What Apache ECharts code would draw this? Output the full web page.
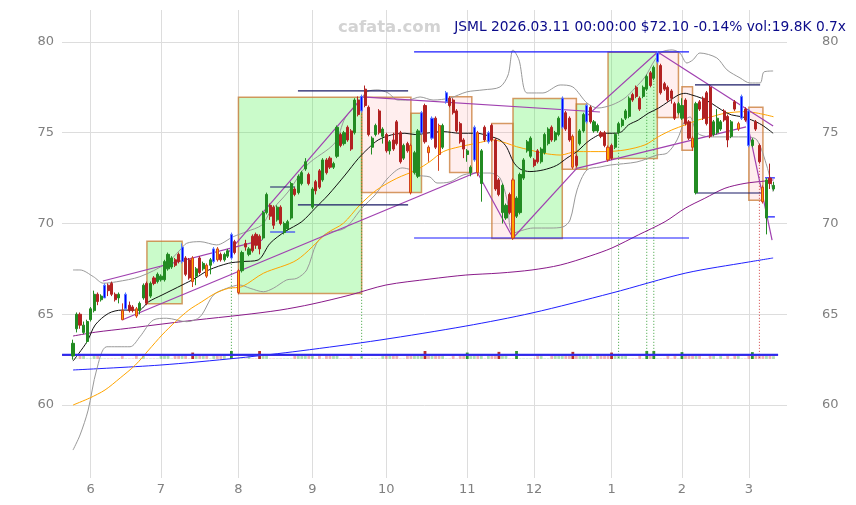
<!DOCTYPE html>
<html><head><meta charset="utf-8">
<script src="https://cdn.jsdelivr.net/npm/echarts@6/dist/echarts.min.js"></script>
<style>html,body{margin:0;padding:0;background:#fff}#c{width:856px;height:505px}</style>
</head><body><div id="c"></div>
<script>
// ---------- data ----------
const infoText = 'JSML 2026.03.11 00:00:00 $72.10 -0.14% vol:19.8K 0.7x';
const watermark = 'cafata.com';
const monthLabels = ['6','7','8','9','10','11','12','1','2','3'];
const monthStartIdx = [5,25,47,68,89,112,131,153,173,192];
const priceTicks = [60,65,70,75,80];

// daily [open, close, low, high], trading days 2025-05-23 .. 2026-03-11
const ohlc = [
[62.7,63.4,62.5,63.6],[64.2,65.0,64.0,65.1],[65.0,64.4,64.2,65.1],[64.0,64.4,63.9,64.6],[63.5,64.6,63.4,64.7],
[64.7,65.3,64.6,65.4],[65.2,66.1,65.1,66.3],[66.1,65.7,65.5,66.2],[65.8,66.0,65.7,66.1],[65.9,66.6,65.9,66.7],
[66.6,66.3,66.0,66.7],[66.7,66.1,66.0,66.8],[66.1,65.8,65.7,66.2],[65.9,66.1,65.6,66.2],[65.2,64.7,64.7,65.6],
[65.3,66.1,65.2,66.2],[65.5,65.2,65.1,65.7],[65.4,65.2,65.1,65.5],[65.3,64.9,64.8,65.4],[65.2,65.6,65.0,65.7],
[65.9,66.6,65.8,66.7],[66.7,65.6,65.5,66.8],[66.0,66.7,65.9,66.8],[67.0,66.7,66.6,67.1],[66.8,67.2,66.7,67.3],
[66.9,67.1,66.8,67.2],[66.9,67.9,66.8,68.0],[67.5,68.3,67.4,68.4],[67.6,68.1,67.5,68.2],[68.0,67.7,67.6,68.1],
[68.3,67.9,67.8,68.4],[67.9,68.7,67.8,68.9],[68.1,67.2,67.1,68.2],[68.0,67.0,66.9,68.1],[68.1,66.8,66.5,68.2],
[67.1,67.5,66.6,67.6],[68.1,67.3,67.2,68.2],[67.5,67.8,67.4,67.9],[67.7,67.1,67.0,67.8],[67.7,68.0,67.2,68.1],
[67.9,68.6,67.8,68.7],[68.6,68.0,67.9,68.7],[68.3,68.0,67.9,68.4],[68.0,68.3,67.9,68.4],[68.2,68.5,68.1,68.6],
[68.1,69.4,68.0,69.5],[69.0,68.4,68.3,69.1],[67.4,66.2,66.1,67.5],[67.4,68.4,67.3,68.5],[68.9,68.7,68.5,69.1],
[68.3,68.6,68.2,68.7],[69.3,68.5,68.4,69.4],[69.4,68.8,68.6,69.5],[69.3,68.6,68.3,69.4],[69.2,70.6,69.1,70.7],
[70.6,71.6,70.5,71.7],[71.0,70.4,70.2,71.1],[70.9,69.9,69.7,71.0],[70.2,70.9,70.1,71.0],[70.9,70.0,69.9,71.0],
[69.5,70.0,69.4,70.1],[69.7,70.1,69.6,70.2],[70.3,72.2,70.2,72.3],[71.9,71.6,71.5,72.0],[71.7,72.6,71.6,72.7],
[72.2,72.8,72.1,72.9],[73.0,73.4,72.9,73.6],[72.7,72.2,72.1,72.8],[70.9,71.9,70.8,72.0],[72.3,71.8,71.6,72.4],
[72.9,72.0,71.9,73.0],[72.4,73.5,72.3,73.6],[73.5,72.8,72.7,73.6],[73.6,73.1,73.0,73.7],[73.1,73.3,73.0,73.4],
[73.7,75.3,73.6,75.4],[74.9,74.3,74.2,75.0],[74.4,75.0,74.3,75.1],[75.3,74.6,74.5,75.4],[75.1,74.1,74.0,75.2],
[75.0,76.8,74.9,76.9],[76.8,76.0,75.9,77.0],[76.2,77.0,76.1,77.1],[77.4,76.5,76.4,77.6],[76.4,74.9,74.8,76.5],
[74.2,74.7,73.8,74.8],[74.9,75.4,74.8,75.5],[76.2,75.0,74.9,76.3],[74.8,75.2,74.4,75.3],[74.9,74.0,73.9,75.0],
[74.0,74.5,73.8,74.6],[74.6,74.1,74.0,75.0],[75.6,74.4,74.3,75.7],[75.0,73.4,73.3,75.1],[73.6,74.3,73.5,74.4],
[74.4,74.0,73.9,74.5],[74.3,71.7,71.6,74.4],[72.8,73.9,72.7,74.0],[72.6,75.1,72.5,75.2],[75.0,76.1,74.9,76.2],
[76.5,74.5,74.4,76.6],[74.2,73.9,73.4,74.3],[74.7,75.8,74.6,75.9],[75.8,74.2,74.1,75.9],[75.4,73.8,72.9,75.5],
[74.2,75.4,74.1,75.5],[76.7,77.2,76.6,77.3],[76.9,76.5,76.4,77.0],[76.8,76.1,76.0,76.9],[76.2,75.1,75.0,76.3],
[75.5,74.5,74.4,75.6],[74.6,74.1,73.6,74.7],[73.8,74.0,73.4,74.1],[72.8,73.1,72.6,73.2],[73.5,75.3,73.4,75.4],
[75.0,72.8,72.6,75.1],[72.2,74.0,71.2,74.1],[75.3,74.6,74.5,75.4],[74.5,75.0,74.4,75.1],[75.4,74.6,74.5,75.5],
[74.6,71.9,71.8,74.7],[72.4,71.6,71.5,72.5],[70.6,72.1,70.0,72.2],[70.3,71.0,70.2,71.1],[71.6,70.6,70.5,71.7],
[72.4,69.2,69.1,72.5],[70.4,71.4,70.3,71.5],[70.6,72.7,70.5,72.8],[72.5,73.5,72.4,73.6],[74.0,74.5,73.9,74.6],
[73.7,74.7,73.6,74.8],[73.5,73.2,73.1,73.6],[74.0,73.4,73.3,74.1],[73.4,74.1,73.3,74.2],[73.9,74.9,73.8,75.0],
[74.4,75.2,74.3,75.3],[75.3,74.6,74.5,75.4],[74.6,75.0,74.5,75.1],[74.9,75.8,74.8,75.9],[75.3,76.9,75.2,77.0],
[76.1,75.2,75.1,76.2],[75.8,74.6,74.5,75.9],[74.8,73.1,73.0,74.9],[73.7,73.2,73.1,73.8],[74.4,75.1,74.3,75.2],
[75.1,76.0,75.0,76.1],[75.6,76.5,75.5,76.6],[76.4,75.6,75.5,76.5],[75.1,75.6,75.0,75.7],[75.1,75.4,75.0,75.5],
[75.0,74.8,74.7,75.1],[75.0,74.3,74.2,75.1],[74.2,73.5,73.4,74.3],[74.3,73.6,73.5,74.4],[74.2,74.9,74.1,75.0],
[75.0,75.5,74.9,75.6],[75.4,75.7,75.3,75.8],[75.8,76.2,75.7,76.3],[75.9,76.9,75.8,77.0],[77.1,76.8,76.7,77.2],
[77.5,77.0,76.9,77.6],[76.9,76.3,76.2,77.0],[77.0,77.5,76.9,77.6],[77.4,78.1,77.3,78.2],[78.3,77.6,77.5,78.4],
[78.0,78.6,77.9,78.7],[78.9,79.4,78.8,79.5],[78.7,77.2,77.1,78.8],[77.7,77.4,77.3,77.8],[77.5,76.8,76.7,77.6],
[77.3,76.9,76.6,77.4],[76.6,75.8,75.7,76.7],[76.1,76.6,76.0,76.7],[75.8,76.5,75.7,76.9],[76.8,75.5,75.4,76.9],
[75.6,74.7,74.6,75.7],[74.7,74.2,74.0,74.8],[71.7,76.6,71.6,76.7],[76.7,76.3,76.2,76.8],[76.9,75.8,75.7,77.0],
[77.2,75.5,75.4,77.3],[77.5,74.8,74.7,77.6],[74.9,75.6,74.8,75.7],[75.0,75.8,74.9,76.3],[75.2,75.6,75.1,75.7],
[76.2,75.7,75.6,76.3],[75.9,74.6,74.2,76.0],[74.8,75.6,74.7,75.7],[76.7,76.3,76.2,76.8],[75.2,75.5,75.1,75.6],
[75.8,77.0,75.7,77.1],[76.3,75.7,75.6,76.4],[76.2,74.3,74.2,76.3],[74.3,74.6,74.2,74.7],[75.6,75.2,75.1,75.7],
[74.3,73.4,73.3,74.4],[72.0,71.2,71.1,72.1],[70.3,72.4,69.4,72.5],[72.5,72.2,71.9,73.3],[71.9,72.1,71.8,72.3]
];
const blueIdx = [9,15,31,40,45,82,99,102,106,114,118,139,146,166,190,192];
const orangeIdx = [14,18,34,38,41,47,96,101,104,115,125,142,152,176,189,196];

// volume (K shares)
const volume = [
3,3,35,35,3,3,35,35,3,3, 3,3,3,3,35,3,3,3,35,3, 35,3,3,3,3,35,35,35,3,35, 35,35,35,3,45,35,35,35,35,3,
35,35,35,35,3,56,3,3,3,3, 35,3,3,56,35,35,3,3,3,3, 3,3,3,35,35,35,35,35,35,3, 35,3,35,35,35,35,3,3,3,35,
3,3,35,3,3,3,3,3,35,35, 35,35,35,3,3,35,35,35,35,35, 56,35,35,35,35,35,3,3,35,3, 35,35,45,35,35,35,35,3,35,35,
35,50,35,35,3,3,56,3,3,3, 3,3,35,35,3,3,35,35,35,35, 35,35,50,35,35,35,35,35,3,35, 35,35,35,45,35,35,35,35,3,3,
3,35,3,56,35,56,3,3,3,35, 3,35,3,48,35,35,35,35,35,3, 3,35,35,3,35,3,35,3,35,35, 3,3,35,48,35,35,35,35,35,20
];
const volAvg = [[-3.1,28],[60,28],[120,28],[200.3,28]];

// indicator lines: [day index, price]
const maBlack = [[0,62.42],[4,63.49],[6.3,64.41],[10.1,65.05],[13.9,65.23],[18.7,65.23],[21.5,65.69],[25.3,66.06],[31,66.61],[34.7,66.98],[38.6,67.44],[44.2,67.81],[48,67.9],[52.6,67.99],[56,68.91],[60.2,69.55],[65,70.1],[68.8,70.84],[72.5,71.57],[77.3,72.67],[81.1,73.59],[83.9,74.14],[86.7,74.6],[90.5,74.88],[94.3,74.97],[97.2,74.9],[101.4,75.0],[105.2,75.06],[109.9,74.97],[114.7,74.97],[118.5,74.8],[121.3,74.6],[123.2,74.2],[125.1,73.4],[127,73.0],[129.8,72.86],[133.6,72.95],[137.4,73.2],[140.3,73.6],[143.1,73.95],[146.9,74.6],[151.1,74.97],[154,74.97],[155.9,75.06],[157.8,75.43],[160.6,75.7],[163.4,76.07],[166.3,76.35],[169.1,76.71],[172,77.08],[173.9,77.17],[175.8,77.08],[178.6,76.9],[181.4,76.62],[184.3,76.25],[187.1,75.98],[190,75.88],[192.8,75.7],[195.7,75.43],[198.9,74.97]];
const maOrange = [[0,60.0],[4.8,60.39],[9.1,60.83],[13.4,61.49],[17.7,62.2],[21.5,63.03],[25.3,63.86],[29.1,64.59],[32.9,65.23],[36.6,65.69],[40.4,66.15],[44.2,66.43],[48,66.52],[54.1,67.26],[63.6,67.99],[72.1,69.46],[76.8,70.01],[81.5,71.02],[86.3,71.85],[92,72.49],[97.6,72.95],[101.4,73.41],[105.2,73.96],[109.9,74.23],[114.7,74.42],[119.4,74.6],[123.2,74.42],[126,74.23],[129.8,74.05],[133.6,73.87],[138.4,73.77],[143.1,73.96],[151.1,73.96],[156.8,74.05],[162.5,74.33],[166.3,74.78],[170.1,75.15],[173.9,75.43],[177.6,75.7],[181.4,75.88],[185.2,76.07],[190.9,76.16],[194.7,76.07],[199,75.88]];
const maPurple = [[0,63.8],[6.3,64.01],[15.8,64.23],[25.3,64.46],[34.7,64.68],[48,64.96],[58.8,65.23],[67.9,65.56],[78.7,66.06],[88.9,66.61],[101.4,66.94],[111.6,67.16],[121.3,67.27],[130.4,67.44],[138.4,67.71],[146.9,68.21],[153.1,68.65],[160.6,69.37],[168.2,70.1],[173.9,70.84],[179.5,71.39],[185.2,71.94],[190.9,72.21],[196.6,72.34],[199,72.4]];
const maBlue = [[0,61.93],[24.7,62.2],[46.9,62.59],[64.5,62.98],[87.2,63.58],[111.6,64.35],[130.4,65.07],[153.1,66.17],[174.1,67.27],[192,67.88],[198.9,68.1]];
const bandUpper = [[0,67.44],[2,67.44],[5.8,67.07],[8.6,66.71],[12.4,66.79],[19,67.07],[26.6,67.81],[30.4,68.54],[32.3,68.91],[36.1,69.0],[40.8,68.82],[45.5,69.27],[49.3,69.55],[53.7,69.92],[56,70.63],[61.1,71.74],[66.5,73.22],[74.4,74.44],[77.3,75.81],[81,76.64],[83.5,77.25],[86.6,77.36],[89.5,77.19],[92.3,76.8],[95.2,76.8],[98.6,76.97],[102.3,76.8],[107.1,76.91],[111.9,77.25],[116.5,77.36],[121.3,77.52],[123.6,78.18],[125,79.56],[126.7,79.01],[129,77.19],[133.5,77.19],[138.4,77.63],[142,77.52],[146,76.64],[149.1,76.36],[153.1,76.53],[156.8,76.91],[159.7,77.47],[162.5,78.07],[165.3,79.01],[167.3,79.45],[170.2,79.56],[172.4,79.39],[174.4,78.84],[176.1,79.01],[178.1,79.39],[182.9,79.12],[185.8,78.46],[189.5,78.02],[192.3,77.74],[195.2,77.74],[196.3,78.35],[198.9,78.4]];
const bandLower = [[0,57.52],[2,58.35],[4.3,59.72],[6.7,61.93],[9.6,63.21],[16.2,63.21],[19,63.76],[22.8,64.68],[26.6,64.78],[32.3,64.59],[36.1,64.86],[39.9,66.06],[43.7,66.43],[47.4,66.61],[50.3,66.43],[54.1,66.24],[56.9,66.43],[60.7,66.89],[63.6,66.98],[66.4,67.44],[69.2,68.91],[72.1,69.46],[77.3,69.75],[82.1,70.85],[85.8,71.57],[89.5,72.51],[93.5,73.06],[96,72.95],[97.7,72.67],[101.4,72.56],[103.4,72.23],[107.1,72.29],[110.8,72.67],[114.8,72.78],[118.5,72.78],[121.3,72.51],[123.3,71.29],[125,69.48],[130.7,69.75],[135.5,69.75],[139.2,69.81],[141.2,70.19],[143.2,71.85],[146,72.95],[149.7,73.11],[152.6,73.22],[160.2,73.39],[165.9,73.77],[168.8,73.88],[171.6,74.6],[173.9,75.7],[175.3,75.87],[177.3,74.99],[181,74.77],[186.6,74.77],[191.5,74.77],[194.3,74.6],[197.2,73.11],[198.9,71.74]];

// trend lines [[i1,p1],[i2,p2]]
const trendLines = [
[[8.5,66.83],[53.7,69.08]],[[13.9,64.68],[114.8,72.84]],[[44,68.38],[82,76.91]],[[82.1,76.97],[149.7,76.14]],
[[114.8,72.84],[125,69.2]],[[125,69.2],[143.1,73.04]],[[143.1,73.04],[191.2,75.32]],[[145.7,75.87],[166.1,79.45]],
[[166.1,79.45],[198.9,75.37]],[[190.9,76.14],[198.6,69.09]]
];
// support / resistance segments [i1, i2, price, kind]  (b = bright blue, d = dark)
const levelLines = [
[96.9,175,79.45,'b'],[96.9,175,69.2,'b'],[63.9,95.2,77.3,'d'],[63.9,95.2,71.02,'d'],[56,63.1,72.01,'d'],[56,63.1,69.53,'b'],
[176.7,195.6,71.68,'d'],[176.7,195.2,77.63,'d'],[196.6,199.4,72.51,'b'],[196.6,199.4,70.36,'b']
];
// boxes [i1, i2, top, bottom, kind]
const boxes = [
[21,31,69.02,65.58,'g'],[47,82,76.95,66.15,'g'],[82,96,76.95,71.71,'p'],[96,99,76.07,71.71,'g'],
[107,113.3,76.98,72.81,'p'],[119,125,75.51,69.17,'p'],[125,139,76.89,69.17,'g'],[139,143,76.89,72.99,'p'],
[143,146,76.58,72.99,'g'],[152,166,79.43,73.58,'g'],[166,172,79.43,75.84,'p'],[173,176,77.53,74.04,'p'],
[192,196,76.4,71.28,'p']
];
const signalGreen = [45,82,155,163,165];
const signalRed = [195];
const volBaseLine = 62.6;

// ---------- chart ----------
const X_MIN = -3.125, X_MAX = 202.84;
const UP = '#228b22', DOWN = '#b22222';
const candleData = ohlc.map((d, i) => {
  const item = { value: [i, d[0], d[1], d[2], d[3]] };
  if (blueIdx.includes(i)) item.itemStyle = { color: '#0000ff', color0: '#0000ff', borderColor: '#5577ff', borderColor0: '#5577ff' };
  else if (orangeIdx.includes(i)) item.itemStyle = { color: '#ffa500', color0: '#ffa500', borderColor: '#d2421e', borderColor0: '#d2421e' };
  return item;
});
const volData = volume.map((v, i) => {
  const up = ohlc[i][1] >= ohlc[i][0];
  const strong = v >= 45;
  const c = up ? (strong ? 'rgba(34,139,34,0.95)' : 'rgba(34,160,34,0.35)') : (strong ? 'rgba(178,34,34,0.95)' : 'rgba(200,40,40,0.35)');
  return { value: [i, v], itemStyle: { color: c } };
});

const series = [];
series.push({
  type: 'line', data: [], xAxisIndex: 0, yAxisIndex: 0, z: 1, silent: true,
  markArea: { silent: true, data: boxes.map(b => [
    { coord: [b[0], b[2]], itemStyle: { color: b[4] === 'g' ? 'rgba(60,240,60,0.27)' : 'rgba(255,150,150,0.16)', borderColor: 'rgba(200,120,50,0.75)', borderWidth: 1.5 } },
    { coord: [b[1], b[3]] }
  ]) }
});
function lineSeries(data, color, width, opts) {
  return Object.assign({ type: 'line', data, xAxisIndex: 0, yAxisIndex: 0, showSymbol: false, silent: true,
    lineStyle: { color, width }, z: 3, animation: false }, opts || {});
}
series.push(lineSeries(maBlue, '#2020ff', 1, { smooth: 0.3 }));
series.push(lineSeries(maPurple, '#8a1a8a', 1, { smooth: 0.3 }));
series.push(lineSeries(bandUpper, '#999999', 1, { smooth: 0.3 }));
series.push(lineSeries(bandLower, '#999999', 1, { smooth: 0.3 }));
series.push(lineSeries(maOrange, '#ffa500', 1, { smooth: 0.3 }));
series.push(lineSeries(maBlack, '#111111', 1, { smooth: 0.3 }));
trendLines.forEach(t => series.push(lineSeries(t, '#a040b0', 1.2)));
levelLines.forEach(l => series.push(lineSeries([[l[0], l[2]], [l[1], l[2]]], l[3] === 'b' ? '#1a1aff' : '#1a1a66', 1.2)));
signalGreen.forEach(i => series.push(lineSeries([[i, volBaseLine], [i, ohlc[i][2]]], '#3aa03a', 1, { lineStyle: { color: '#3aa03a', width: 1, type: [1, 2] }, z: 2 })));
signalRed.forEach(i => series.push(lineSeries([[i, volBaseLine], [i, ohlc[i][2]]], '#d04040', 1, { lineStyle: { color: '#d04040', width: 1, type: [1, 2] }, z: 2 })));
series.push({
  type: 'candlestick', data: candleData, xAxisIndex: 0, yAxisIndex: 0, encode: { x: 0, y: [1, 2, 3, 4] },
  barWidth: 2.6, z: 5, silent: true, animation: false,
  itemStyle: { color: UP, color0: DOWN, borderColor: UP, borderColor0: DOWN, borderWidth: 1 }
});
series.push({ type: 'bar', data: volData, xAxisIndex: 1, yAxisIndex: 2, barWidth: 2.8, silent: true, animation: false, z: 2 });
series.push({ type: 'line', data: volAvg, xAxisIndex: 1, yAxisIndex: 2, showSymbol: false, silent: true, z: 3,
  lineStyle: { color: '#7a3fd0', width: 2 }, animation: false });
series.push({ type: 'line', data: volAvg.map(p => [p[0], p[1] + 2]), xAxisIndex: 1, yAxisIndex: 2, showSymbol: false, silent: true, z: 3,
  lineStyle: { color: '#2a2aee', width: 2 }, animation: false });

const labelStyle = { color: '#808080', fontSize: 13, fontFamily: 'DejaVu Sans' };
const option = {
  animation: false,
  backgroundColor: '#ffffff',
  title: [
    { text: watermark, left: 338, top: 19, padding: 0, textStyle: { color: '#d3d3d3', fontSize: 16.5, fontWeight: 'bold', fontFamily: 'DejaVu Sans' } },
    { text: infoText, right: 10, top: 20, padding: 0, textStyle: { color: '#0b0b8a', fontSize: 13.8, fontWeight: 'normal', fontFamily: 'DejaVu Sans' } }
  ],
  grid: [
    { left: 62, right: 69, top: 10, bottom: 27 },
    { left: 62, right: 69, top: 300, height: 59 }
  ],
  xAxis: [
    { type: 'value', gridIndex: 0, min: X_MIN, max: X_MAX,
      axisLine: { show: false }, axisTick: { show: false, customValues: monthStartIdx },
      splitLine: { show: true, lineStyle: { color: '#dddddd', width: 1 } },
      axisLabel: { customValues: monthStartIdx, margin: 5, ...labelStyle,
        formatter: v => { const k = monthStartIdx.indexOf(Math.round(v)); return k >= 0 ? monthLabels[k] : ''; } } },
    { type: 'value', gridIndex: 1, min: X_MIN, max: X_MAX, show: false }
  ],
  yAxis: [
    { type: 'value', gridIndex: 0, position: 'left', min: 55.98, max: 81.76,
      axisLine: { show: false }, axisTick: { show: false, customValues: priceTicks },
      splitLine: { show: true, lineStyle: { color: '#dddddd', width: 1 } },
      axisLabel: { customValues: priceTicks, margin: 8, ...labelStyle } },
    { type: 'value', gridIndex: 0, position: 'right', min: 55.98, max: 81.76,
      axisLine: { show: false }, axisTick: { show: false, customValues: priceTicks },
      splitLine: { show: false },
      axisLabel: { customValues: priceTicks, margin: 35, ...labelStyle } },
    { type: 'value', gridIndex: 1, min: 0, max: 413, show: false }
  ],
  series
};
const chart = echarts.init(document.getElementById('c'), null, { renderer: 'canvas' });
chart.setOption(option);
</script></body></html>
